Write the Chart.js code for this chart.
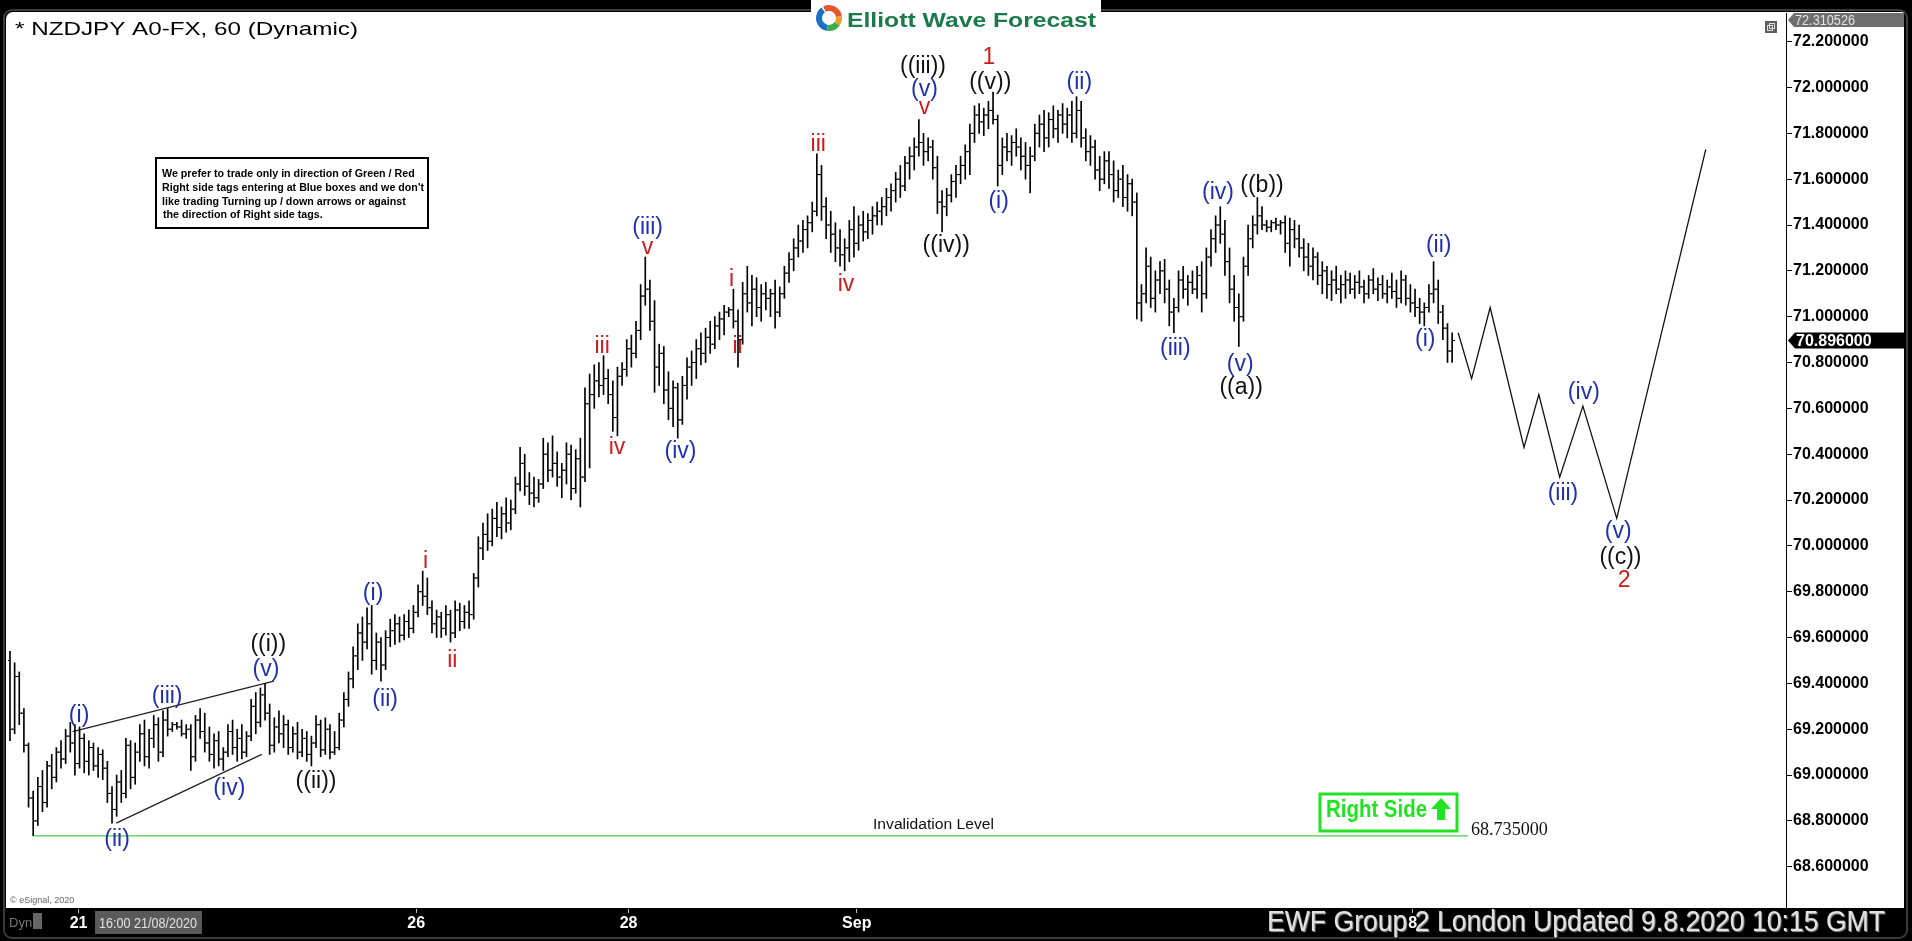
<!DOCTYPE html>
<html>
<head>
<meta charset="utf-8">
<script src="https://cdn.jsdelivr.net/npm/chart.js@4.4.0/dist/chart.umd.min.js"></script>
<style>
  html, body { margin: 0; padding: 0; background: #000; overflow: hidden; }
  canvas { display: block; }
</style>
</head>
<body>
<canvas id="ewfChart" width="1912" height="941"></canvas>
<script>
// hourly bars, one row per bar: [open, high, low, close]
const bars = [
  [69.50,69.54,69.15,69.20],[69.20,69.49,69.18,69.43],[69.43,69.45,69.22,69.27],[69.27,69.29,69.10,69.13],
  [69.13,69.14,68.86,68.90],[68.90,68.93,68.735,68.80],[68.80,68.99,68.78,68.95],[68.95,69.02,68.84,68.88],
  [68.88,69.06,68.86,69.04],[69.04,69.09,68.94,68.99],[68.99,69.12,68.97,69.10],[69.10,69.15,69.03,69.07],
  [69.07,69.20,69.05,69.17],[69.17,69.23,69.10,69.14],[69.14,69.22,69.00,69.05],[69.05,69.21,69.03,69.16],
  [69.16,69.18,69.01,69.06],[69.06,69.15,69.00,69.12],[69.12,69.14,69.02,69.04],[69.04,69.12,68.99,69.09],
  [69.09,69.11,68.98,69.03],[69.03,69.06,68.88,68.92],[68.92,68.95,68.79,68.85],[68.85,69.00,68.82,68.97],
  [68.97,69.02,68.88,68.92],[68.92,69.16,68.90,69.13],[69.13,69.15,68.94,68.99],[68.99,69.14,68.96,69.10],
  [69.10,69.22,69.06,69.18],[69.18,69.24,69.04,69.08],[69.08,69.20,69.03,69.16],[69.16,69.26,69.12,69.22],
  [69.22,69.25,69.06,69.10],[69.10,69.28,69.08,69.24],[69.24,69.29,69.17,69.20],[69.20,69.23,69.19,69.22],
  [69.22,69.23,69.20,69.21],[69.21,69.24,69.17,69.18],[69.18,69.22,69.16,69.20],[69.20,69.22,69.02,69.08],
  [69.08,69.26,69.06,69.24],[69.24,69.29,69.16,69.19],[69.19,69.27,69.10,69.14],[69.14,69.21,69.06,69.09],
  [69.09,69.18,69.03,69.15],[69.15,69.19,69.04,69.07],[69.07,69.12,69.02,69.10],[69.10,69.22,69.08,69.19],
  [69.19,69.24,69.09,69.12],[69.12,69.20,69.06,69.16],[69.16,69.22,69.07,69.10],[69.10,69.19,69.08,69.17],
  [69.17,69.33,69.15,69.30],[69.30,69.36,69.18,69.23],[69.23,69.38,69.21,69.35],[69.35,69.40,69.24,69.27],
  [69.27,69.31,69.09,69.13],[69.13,69.25,69.10,69.21],[69.21,69.28,69.14,69.18],[69.18,69.26,69.12,69.22],
  [69.22,69.24,69.09,69.12],[69.12,69.21,69.10,69.18],[69.18,69.23,69.07,69.10],[69.10,69.20,69.08,69.16],
  [69.16,69.19,69.06,69.09],[69.09,69.17,69.04,69.14],[69.14,69.26,69.12,69.22],[69.22,69.24,69.08,69.11],
  [69.11,69.25,69.09,69.20],[69.20,69.22,69.07,69.10],[69.10,69.19,69.09,69.12],[69.12,69.27,69.11,69.24],
  [69.24,69.36,69.21,69.33],[69.33,69.45,69.30,69.42],[69.42,69.56,69.38,69.52],[69.52,69.66,69.46,69.62],
  [69.62,69.69,69.50,69.58],[69.58,69.73,69.55,69.66],[69.66,69.74,69.44,69.50],[69.50,69.62,69.46,69.58],
  [69.58,69.60,69.41,69.48],[69.48,69.63,69.46,69.60],[69.60,69.68,69.56,69.63],[69.63,69.70,69.57,69.66],
  [69.66,69.69,69.58,69.61],[69.61,69.70,69.59,69.67],[69.67,69.72,69.60,69.64],[69.64,69.74,69.62,69.71],
  [69.71,69.83,69.69,69.80],[69.80,69.89,69.74,69.78],[69.78,69.86,69.70,69.73],[69.73,69.76,69.62,69.66],
  [69.66,69.72,69.60,69.69],[69.69,69.71,69.60,69.64],[69.64,69.74,69.61,69.70],[69.70,69.72,69.58,69.62],
  [69.62,69.76,69.60,69.72],[69.72,69.75,69.63,69.67],[69.67,69.74,69.64,69.71],[69.71,69.76,69.64,69.70],
  [69.70,69.88,69.68,69.86],[69.86,70.04,69.82,69.99],[69.99,70.10,69.94,70.05],[70.05,70.14,69.98,70.02],
  [70.02,70.16,70.00,70.12],[70.12,70.19,70.04,70.08],[70.08,70.17,70.03,70.14],[70.14,70.21,70.06,70.10],
  [70.10,70.20,70.07,70.16],[70.16,70.30,70.14,70.27],[70.27,70.43,70.24,70.36],[70.36,70.40,70.22,70.26],
  [70.26,70.32,70.18,70.23],[70.23,70.30,70.17,70.21],[70.21,70.29,70.19,70.27],[70.27,70.47,70.25,70.40],
  [70.40,70.45,70.28,70.33],[70.33,70.48,70.30,70.36],[70.36,70.41,70.26,70.30],[70.30,70.36,70.21,70.33],
  [70.33,70.45,70.27,70.40],[70.40,70.44,70.20,70.25],[70.25,70.42,70.23,70.38],[70.38,70.47,70.17,70.30],
  [70.30,70.69,70.28,70.62],[70.62,70.75,70.34,70.66],[70.66,70.79,70.60,70.72],[70.72,70.80,70.65,70.70],
  [70.70,70.83,70.66,70.73],[70.73,70.77,70.62,70.66],[70.66,70.72,70.50,70.56],[70.56,70.78,70.48,70.74],
  [70.74,70.80,70.70,70.77],[70.77,70.90,70.74,70.86],[70.86,70.92,70.78,70.84],[70.84,70.98,70.82,70.94],
  [70.94,71.14,70.90,71.09],[71.09,71.26,71.05,71.12],[71.12,71.16,70.94,70.98],[70.98,71.07,70.67,70.78],
  [70.78,70.88,70.70,70.84],[70.84,70.87,70.62,70.68],[70.68,70.76,70.55,70.60],[70.60,70.72,70.52,70.69],
  [70.69,70.71,70.47,70.55],[70.55,70.74,70.53,70.70],[70.70,70.82,70.64,70.78],[70.78,70.85,70.70,70.80],
  [70.80,70.90,70.73,70.86],[70.86,70.93,70.79,70.84],[70.84,70.95,70.80,70.91],[70.91,70.98,70.84,70.88],
  [70.88,71.00,70.86,70.96],[70.96,71.02,70.90,70.99],[70.99,71.05,70.92,71.02],[71.02,71.04,71.00,71.03],
  [71.03,71.12,70.95,70.98],[70.98,71.03,70.78,70.90],[70.90,71.15,70.88,71.10],[71.10,71.22,71.02,71.06],
  [71.06,71.18,70.96,71.12],[71.12,71.17,71.00,71.04],[71.04,71.14,70.98,71.10],[71.10,71.15,71.03,71.08],
  [71.08,71.12,71.00,71.10],[71.10,71.16,70.95,71.02],[71.02,71.13,71.00,71.10],[71.10,71.22,71.08,71.19],
  [71.19,71.28,71.15,71.25],[71.25,71.34,71.20,71.30],[71.30,71.40,71.26,71.33],[71.33,71.42,71.28,71.38],
  [71.38,71.44,71.30,71.41],[71.41,71.50,71.37,71.46],[71.46,71.71,71.44,71.62],[71.62,71.66,71.42,71.48],
  [71.48,71.52,71.34,71.40],[71.40,71.46,71.28,71.36],[71.36,71.41,71.24,71.30],[71.30,71.38,71.22,71.27],
  [71.27,71.34,71.20,71.30],[71.30,71.42,71.24,71.38],[71.38,71.48,71.26,71.32],[71.32,71.44,71.29,71.40],
  [71.40,71.46,71.33,71.37],[71.37,71.45,71.34,71.42],[71.42,71.48,71.36,71.44],[71.44,71.50,71.40,71.46],
  [71.46,71.52,71.40,71.48],[71.48,71.56,71.44,71.52],[71.52,71.58,71.46,71.55],[71.55,71.63,71.50,71.60],
  [71.60,71.66,71.52,71.57],[71.57,71.70,71.55,71.67],[71.67,71.74,71.60,71.70],[71.70,71.78,71.64,71.74],
  [71.74,71.86,71.70,71.76],[71.76,71.80,71.66,71.72],[71.72,71.78,71.68,71.74],[71.74,71.77,71.60,71.65],
  [71.65,71.70,71.45,71.50],[71.50,71.55,71.37,71.48],[71.48,71.56,71.44,71.53],[71.53,71.62,71.50,71.59],
  [71.59,71.66,71.52,71.62],[71.62,71.70,71.58,71.66],[71.66,71.75,71.60,71.72],[71.72,71.84,71.62,71.80],
  [71.80,71.92,71.76,71.88],[71.88,71.93,71.80,71.85],[71.85,71.91,71.79,71.88],[71.88,71.94,71.82,71.90],
  [71.90,71.98,71.84,71.86],[71.86,71.88,71.57,71.66],[71.66,71.78,71.62,71.74],[71.74,71.80,71.68,71.72],
  [71.72,71.79,71.66,71.76],[71.76,71.82,71.70,71.74],[71.74,71.78,71.64,71.70],[71.70,71.76,71.60,71.66],
  [71.66,71.74,71.54,71.70],[71.70,71.84,71.68,71.80],[71.80,71.88,71.74,71.84],[71.84,71.90,71.72,71.78],
  [71.78,71.89,71.74,71.86],[71.86,71.92,71.78,71.82],[71.82,71.90,71.76,71.88],[71.88,71.93,71.80,71.84],
  [71.84,71.91,71.78,71.88],[71.88,71.94,71.76,71.80],[71.80,71.96,71.78,71.90],[71.90,71.94,71.74,71.78],
  [71.78,71.82,71.68,71.72],[71.72,71.79,71.66,71.74],[71.74,71.77,71.60,71.64],[71.64,71.70,71.55,71.60],
  [71.60,71.72,71.58,71.68],[71.68,71.72,71.56,71.62],[71.62,71.68,71.50,71.55],[71.55,71.64,71.52,71.60],
  [71.60,71.66,71.48,71.52],[71.52,71.62,71.46,71.58],[71.58,71.60,71.44,71.50],[71.50,71.54,70.99,71.06],
  [71.06,71.14,70.98,71.10],[71.10,71.30,71.06,71.22],[71.22,71.26,71.04,71.08],[71.08,71.20,71.02,71.16],
  [71.16,71.24,71.10,71.20],[71.20,71.25,71.06,71.12],[71.12,71.16,70.96,71.02],[71.02,71.08,70.93,71.04],
  [71.04,71.20,71.02,71.16],[71.16,71.22,71.08,71.12],[71.12,71.18,71.05,71.15],[71.15,71.20,71.10,71.12],
  [71.12,71.22,71.08,71.18],[71.18,71.24,71.02,71.10],[71.10,71.30,71.08,71.26],[71.26,71.38,71.22,71.34],
  [71.34,71.44,71.28,71.40],[71.40,71.48,71.32,71.36],[71.36,71.42,71.18,71.24],[71.24,71.30,71.06,71.12],
  [71.12,71.18,70.98,71.04],[71.04,71.10,70.87,71.00],[71.00,71.26,70.98,71.22],[71.22,71.40,71.18,71.34],
  [71.34,71.44,71.30,71.40],[71.40,71.52,71.36,71.44],[71.44,71.48,71.38,71.40],[71.40,71.42,71.37,71.39],
  [71.39,71.42,71.37,71.41],[71.41,71.43,71.38,71.40],[71.40,71.42,71.36,71.41],[71.41,71.44,71.28,71.32],
  [71.32,71.43,71.22,71.38],[71.38,71.42,71.30,71.34],[71.34,71.40,71.26,71.30],[71.30,71.34,71.20,71.26],
  [71.26,71.32,71.18,71.22],[71.22,71.30,71.16,71.26],[71.26,71.28,71.14,71.18],[71.18,71.24,71.10,71.20],
  [71.20,71.22,71.08,71.14],[71.14,71.20,71.07,71.16],[71.16,71.22,71.10,71.12],[71.12,71.18,71.06,71.14],
  [71.14,71.20,71.08,71.16],[71.16,71.19,71.10,71.12],[71.12,71.18,71.08,71.15],[71.15,71.20,71.10,71.13],
  [71.13,71.16,71.06,71.10],[71.10,71.18,71.08,71.16],[71.16,71.21,71.10,71.12],[71.12,71.17,71.07,71.14],
  [71.14,71.18,71.08,71.10],[71.10,71.16,71.06,71.13],[71.13,71.19,71.08,71.11],[71.11,71.16,71.04,71.08],
  [71.08,71.20,71.06,71.16],[71.16,71.18,71.05,71.08],[71.08,71.14,71.02,71.06],[71.06,71.12,71.00,71.04],
  [71.04,71.08,70.97,71.02],[71.02,71.06,70.96,71.04],[71.04,71.14,71.02,71.10],[71.10,71.24,71.06,71.12],
  [71.12,71.16,70.97,71.02],[71.02,71.05,70.90,70.95],[70.95,70.97,70.80,70.85],[70.85,70.93,70.80,70.896]
];

// x axis: bar index of each date label
const dateTicks = [14.8, 87.6, 133.4, 182.6, 302.5];
const dateLabels = ['21', '26', '28', 'Sep', '8'];
// price axis
const priceTicks = [68.6, 68.8, 69.0, 69.2, 69.4, 69.6, 69.8, 70.0, 70.2, 70.4, 70.6, 70.8, 71.0, 71.2, 71.4, 71.6, 71.8, 72.0, 72.2];
const lastPrice = 70.896;
const topPrice = 72.310526;
const invalidationLevel = 68.735;
const invalidationSpan = [5.2, 314.4];

// projected path [bar index, price]
const projection = [[312.3,70.93],[315.2,70.73],[319.2,71.04],[326.5,70.43],[329.7,70.66],[334.2,70.30],[339.2,70.61],[346.5,70.12],[365.7,71.73]];
// ending diagonal lines
const wedgeUpper = [[13.5,69.19],[56.9,69.41]];
const wedgeLower = [[22.9,68.79],[54.3,69.09]];

// wave labels [text, bar index, price]
const blueLabels = [
  ['(i)',14.9,69.26],['(ii)',23.1,68.72],['(iii)',33.9,69.34],['(iv)',47.3,68.94],['(v)',55.2,69.46],
  ['(i)',78.3,69.79],['(ii)',80.9,69.33],['(iii)',137.5,71.39],['(iv)',144.6,70.41],['(v)',197.2,71.99],
  ['(i)',213.2,71.50],['(ii)',230.6,72.02],['(iii)',251.3,70.86],['(iv)',260.5,71.54],['(v)',265.3,70.79],
  ['(i)',305.2,70.90],['(ii)',308.1,71.31],['(iii)',334.9,70.23],['(iv)',339.4,70.67],['(v)',346.8,70.06]
];
const blackLabels = [
  ['((i))',55.7,69.57],['((ii))',66.0,68.97],['((iii))',196.9,72.09],['((v))',211.4,72.02],
  ['((iv))',201.9,71.31],['((a))',265.5,70.69],['((b))',270.0,71.57],['((c))',347.3,69.95]
];
const redLabels = [
  ['i',89.6,69.93],['ii',95.4,69.50],['iii',127.7,70.87],['iv',130.9,70.43],['v',137.5,71.30],
  ['i',155.6,71.16],['ii',156.9,70.87],['iii',174.3,71.75],['iv',180.3,71.14],['v',197.2,71.91],
  ['1',211.1,72.13],['2',348.1,69.85]
];

const noteLines = [
  'We prefer to trade only in direction of Green / Red',
  'Right side tags entering at Blue boxes and we don\'t',
  'like trading Turning up / down arrows or against',
  'the direction of Right side tags.'
];

const ARIAL = 'Arial, "Liberation Sans", sans-serif';

// draws text squeezed or stretched to a given width
function fitText(c, text, x, y, width) {
  const w = c.measureText(text).width;
  c.save();
  c.translate(x, y);
  c.scale(width / w, 1);
  c.fillText(text, 0, 0);
  c.restore();
}

const framePlugin = {
  id: 'frame',
  beforeDraw(chart) {
    const c = chart.ctx;
    c.save();
    c.fillStyle = '#000';
    c.fillRect(0, 0, chart.width, chart.height);
    c.fillStyle = '#fff';
    c.beginPath();
    c.roundRect(6, 12, 1898, 896, [7, 0, 0, 0]);
    c.fill();
    c.strokeStyle = '#3c3c3c';
    c.lineWidth = 2;
    c.beginPath();
    c.roundRect(4, 10, 1903, 928, 8);
    c.stroke();
    c.restore();
  }
};

const wavePlugin = {
  id: 'waves',
  afterDatasetsDraw(chart) {
    const c = chart.ctx, xs = chart.scales.x, ys = chart.scales.y;
    c.save();
    c.font = '23px ' + ARIAL;
    c.textAlign = 'center';
    c.textBaseline = 'middle';
    const groups = [[blueLabels, '#1f2fb0'], [blackLabels, '#111'], [redLabels, '#d21a1a']];
    groups.forEach(([list, color]) => {
      c.fillStyle = color;
      list.forEach(([t, i, v]) => c.fillText(t, xs.getPixelForValue(i), ys.getPixelForValue(v)));
    });

    // invalidation texts
    c.fillStyle = '#111';
    c.font = '14px ' + ARIAL;
    c.textBaseline = 'alphabetic';
    c.textAlign = 'left';
    fitText(c, 'Invalidation Level', 873, 829, 121);
    c.font = '18px "Liberation Serif", "Times New Roman", serif';
    fitText(c, invalidationLevel.toFixed(6), xs.getPixelForValue(invalidationSpan[1]) + 3, ys.getPixelForValue(invalidationLevel) - 1, 77);
    c.restore();
  },
  afterDraw(chart) {
    const c = chart.ctx, ys = chart.scales.y;
    c.save();

    // title
    c.fillStyle = '#000';
    c.font = '19px ' + ARIAL;
    c.textBaseline = 'alphabetic';
    fitText(c, '* NZDJPY A0-FX, 60 (Dynamic)', 15, 35, 343);

    // logo
    c.fillStyle = '#fff';
    c.fillRect(811, 0, 290, 35);
    c.lineWidth = 6;
    const arcs = [['#1d6fc6', 0.55, 1.3], ['#e4572e', 1.35, 1.95], ['#f29a2e', 1.95, 2.2], ['#3aae4a', 0.2, 0.55]];
    arcs.forEach(([col, a, b]) => {
      c.strokeStyle = col;
      c.beginPath();
      c.arc(829, 18, 10, a * Math.PI, b * Math.PI);
      c.stroke();
    });
    c.fillStyle = '#1b7a4b';
    c.font = 'bold 21px ' + ARIAL;
    fitText(c, 'Elliott Wave Forecast', 847, 27, 249);

    // top price tag and window icon
    c.fillStyle = '#6e6e6e';
    c.beginPath();
    c.moveTo(1788, 20); c.lineTo(1794, 13); c.lineTo(1904, 13); c.lineTo(1904, 27); c.lineTo(1794, 27);
    c.closePath(); c.fill();
    c.fillStyle = '#e4e4e4';
    c.font = '15px ' + ARIAL;
    c.textBaseline = 'middle';
    fitText(c, topPrice.toFixed(6), 1795, 20.5, 60);
    c.fillStyle = '#5e5e5e';
    c.fillRect(1765, 21, 12, 12);
    c.strokeStyle = '#ddd';
    c.lineWidth = 1;
    c.strokeRect(1767.5, 25.5, 5, 5);
    c.strokeRect(1769.5, 23.5, 5, 5);

    // last price tag
    const ly = ys.getPixelForValue(lastPrice);
    c.fillStyle = '#000';
    c.beginPath();
    c.moveTo(1788, ly); c.lineTo(1795, ly - 8); c.lineTo(1904, ly - 8); c.lineTo(1904, ly + 8); c.lineTo(1795, ly + 8);
    c.closePath(); c.fill();
    c.fillStyle = '#fff';
    c.font = 'bold 16px ' + ARIAL;
    c.fillText(lastPrice.toFixed(6), 1796, ly + 1);

    // note box
    c.fillStyle = '#fff';
    c.fillRect(156, 158, 272, 70);
    c.strokeStyle = '#000';
    c.lineWidth = 2;
    c.strokeRect(156, 158, 272, 70);
    c.fillStyle = '#000';
    c.font = 'bold 11.5px ' + ARIAL;
    c.textBaseline = 'alphabetic';
    const k = 262 / c.measureText(noteLines[1]).width;
    [177, 191, 205, 218].forEach((by, n) => {
      const tx = n === 3 ? 163 : 162;
      fitText(c, noteLines[n], tx, by, c.measureText(noteLines[n]).width * k);
    });

    // Right Side tag
    c.strokeStyle = '#22e322';
    c.lineWidth = 3;
    c.strokeRect(1320, 794, 137, 37);
    c.fillStyle = '#22e322';
    c.font = 'bold 23px ' + ARIAL;
    fitText(c, 'Right Side', 1326, 817, 101);
    c.beginPath();
    c.moveTo(1441, 798); c.lineTo(1451, 809); c.lineTo(1445, 809); c.lineTo(1445, 820);
    c.lineTo(1437, 820); c.lineTo(1437, 809); c.lineTo(1431, 809);
    c.closePath(); c.fill();

    // bottom strip texts
    c.fillStyle = '#666';
    c.font = '9px ' + ARIAL;
    c.fillText('\u00a9 eSignal, 2020', 10, 903);
    c.fillStyle = '#777';
    c.font = '13px ' + ARIAL;
    c.fillText('Dyn', 9, 927);
    c.fillStyle = '#666';
    c.fillRect(33, 913, 9, 16);
    c.fillStyle = '#5a5a5a';
    c.fillRect(95, 911, 107, 23);
    c.fillStyle = '#e0e0e0';
    c.font = '14px ' + ARIAL;
    fitText(c, '16:00 21/08/2020', 99, 928, 98);

    // update stamp
    c.font = '29px ' + ARIAL;
    const stamp = 'EWF Group 2 London Updated 9.8.2020 10:15 GMT';
    c.fillStyle = '#111';
    fitText(c, stamp, 1269, 933, 618);
    c.fillStyle = '#8a8a8a';
    fitText(c, stamp, 1268, 932, 618);
    c.fillStyle = '#e2e2e2';
    fitText(c, stamp, 1267, 931, 618);
    c.restore();
  }
};

const ctx = document.getElementById('ewfChart').getContext('2d');

const rangeData = bars.map((b, i) => ({ x: i, y: [b[2], b[1]] }));
const openData = bars.map((b, i) => ({ x: i - 0.34, y: b[0] }));
const closeData = bars.map((b, i) => ({ x: i + 0.34, y: b[3] }));
const toXY = list => list.map(p => ({ x: p[0], y: p[1] }));

const ewfChart = new Chart(ctx, {
  type: 'bar',
  data: {
    datasets: [
      {
        type: 'line',
        data: [{ x: invalidationSpan[0], y: invalidationLevel }, { x: invalidationSpan[1], y: invalidationLevel }],
        borderColor: '#46cc46', borderWidth: 1.2, pointRadius: 0
      },
      { type: 'bar', data: rangeData, backgroundColor: '#000', barThickness: 1, borderWidth: 0 },
      {
        type: 'line', data: openData, showLine: false, pointStyle: 'line',
        pointRadius: 1.4, pointBorderWidth: 1, borderColor: '#000'
      },
      {
        type: 'line', data: closeData, showLine: false, pointStyle: 'line',
        pointRadius: 1.4, pointBorderWidth: 1, borderColor: '#000'
      },
      { type: 'line', data: toXY(wedgeUpper), borderColor: '#222', borderWidth: 1.3, pointRadius: 0 },
      { type: 'line', data: toXY(wedgeLower), borderColor: '#222', borderWidth: 1.3, pointRadius: 0 },
      { type: 'line', data: toXY(projection), borderColor: '#111', borderWidth: 1.3, pointRadius: 0, tension: 0 }
    ]
  },
  options: {
    responsive: false,
    animation: false,
    devicePixelRatio: 1,
    events: [],
    layout: { padding: { left: 8, top: 13, right: 8, bottom: 6 } },
    plugins: { legend: { display: false }, tooltip: { enabled: false } },
    scales: {
      x: {
        type: 'linear', min: -0.43, max: 383.0, offset: false,
        grid: { drawOnChartArea: false, offset: false, tickLength: 5, color: '#bdbdbd' },
        border: { color: '#000' },
        ticks: {
          color: '#fff', autoSkip: false, maxRotation: 0, padding: 1,
          font: { family: ARIAL, size: 16, weight: 'bold' },
          callback: (v, i) => dateLabels[i]
        },
        afterBuildTicks: s => { s.ticks = dateTicks.map(v => ({ value: v })); },
        afterFit: s => { s.height = 27; }
      },
      y: {
        type: 'linear', position: 'right', min: 68.42, max: 72.325, beginAtZero: false,
        grid: { drawOnChartArea: false, tickLength: 6, color: '#000' },
        border: { color: '#000' },
        ticks: {
          color: '#000', padding: 1,
          font: { family: ARIAL, size: 16, weight: 'bold' },
          callback: v => v.toFixed(6)
        },
        afterBuildTicks: s => { s.ticks = priceTicks.map(v => ({ value: v })); },
        afterFit: s => { s.width = 118; }
      }
    }
  },
  plugins: [framePlugin, wavePlugin]
});
</script>
</body>
</html>
